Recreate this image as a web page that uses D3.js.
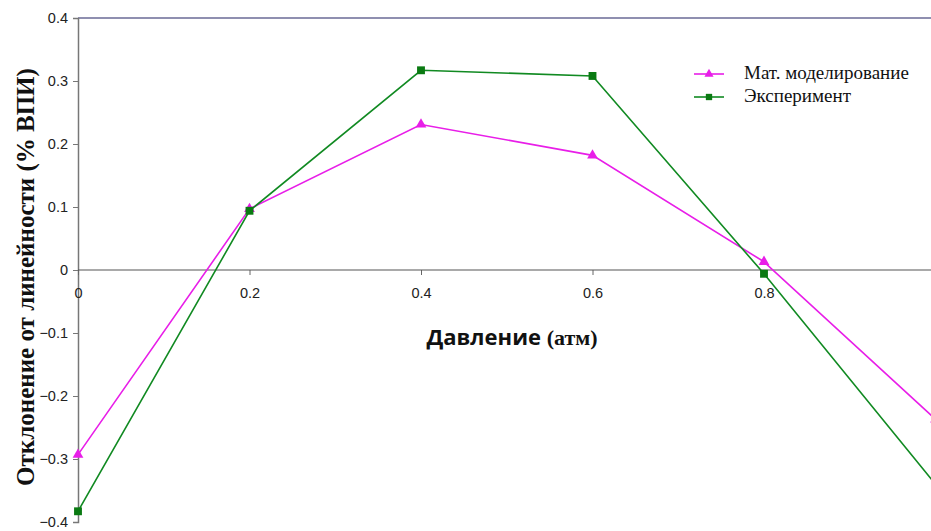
<!DOCTYPE html>
<html>
<head>
<meta charset="utf-8">
<script src="https://cdn.jsdelivr.net/npm/d3@7"></script>
<style>
  body { margin: 0; background: #fff; overflow: hidden; }
</style>
</head>
<body>
<div id="chart"></div>
<script>
// data
var pressure = [0, 0.2, 0.4, 0.6, 0.8, 1.0];
var modelValues = [-0.293, 0.097, 0.231, 0.182, 0.013, -0.237];
var expValues = [-0.383, 0.094, 0.317, 0.308, -0.006, -0.34];
var xTicks = [0, 0.2, 0.4, 0.6, 0.8];
var yTicks = [0.4, 0.3, 0.2, 0.1, 0, -0.1, -0.2, -0.3, -0.4];
var seriesNames = ["Мат. моделирование", "Эксперимент"];

var W = 931, H = 531;
var svg = d3.select("#chart").append("svg")
  .attr("width", W).attr("height", H);

var x = d3.scaleLinear().domain([0, 1]).range([78, 935.5]);
var y = d3.scaleLinear().domain([-0.4, 0.4]).range([522, 18]);

// top border
svg.append("line")
  .attr("x1", x(0)).attr("x2", W)
  .attr("y1", y(0.4)).attr("y2", y(0.4))
  .attr("stroke", "#6a6a96").attr("stroke-width", 1.5);

// y axis
var yAxis = svg.append("g")
  .attr("transform", "translate(" + x(0) + ",0)")
  .call(d3.axisLeft(y).tickValues(yTicks).tickSize(5).tickPadding(5)
    .tickFormat(function (d) { return d === 0 ? "0" : d3.format(".1f")(d); }));
yAxis.select(".domain").attr("stroke", "#777").attr("stroke-width", 1.5);
yAxis.selectAll(".tick line").attr("stroke", "#777");
yAxis.selectAll("text")
  .attr("font-family", "Liberation Sans, Arial, sans-serif")
  .attr("font-size", 14.5).attr("fill", "#222");

// x axis on the zero line
var xAxis = svg.append("g")
  .attr("transform", "translate(0," + y(0) + ")")
  .call(d3.axisBottom(x).tickValues(xTicks).tickSize(5).tickPadding(13)
    .tickFormat(function (d) { return d === 0 ? "0" : d3.format(".1f")(d); }));
xAxis.select(".domain").remove();
xAxis.selectAll(".tick line").attr("stroke", "#666");
xAxis.selectAll("text")
  .attr("font-family", "Liberation Sans, Arial, sans-serif")
  .attr("font-size", 14.5).attr("fill", "#222");
svg.append("line")
  .attr("x1", x(0)).attr("x2", W)
  .attr("y1", y(0)).attr("y2", y(0))
  .attr("stroke", "#555").attr("stroke-width", 1.2);

// axis titles
var xt = svg.append("text")
  .attr("x", 512).attr("y", 345)
  .attr("text-anchor", "middle")
  .attr("font-weight", "bold").attr("fill", "#111");
xt.append("tspan").attr("font-family", "Open Sans, sans-serif")
  .attr("font-size", 22).text("Давление ");
xt.append("tspan").attr("font-family", "Liberation Serif, Times New Roman, serif")
  .attr("font-size", 22).text("(атм)");

svg.append("text")
  .attr("transform", "translate(34," + 277 + ") rotate(-90)")
  .attr("text-anchor", "middle")
  .attr("font-family", "Liberation Serif, Times New Roman, serif")
  .attr("font-weight", "bold").attr("font-size", 25).attr("fill", "#111")
  .text("Отклонение от линейности (% ВПИ)");

// series
var series = [
  { name: seriesNames[0], values: modelValues, color: "#e81ee8", marker: d3.symbolTriangle },
  { name: seriesNames[1], values: expValues, color: "#118a22", marker: d3.symbolSquare }
];

var line = d3.line()
  .x(function (d, i) { return x(pressure[i]); })
  .y(function (d) { return y(d); });

series.forEach(function (s) {
  svg.append("path")
    .datum(s.values)
    .attr("fill", "none")
    .attr("stroke", s.color)
    .attr("stroke-width", 1.6)
    .attr("d", line);
  svg.append("g").selectAll("path")
    .data(s.values)
    .enter()
    .append("path")
    .attr("transform", function (d, i) {
      return "translate(" + x(pressure[i]) + "," + y(d) + ")";
    })
    .attr("d", d3.symbol().type(s.marker).size(s.marker === d3.symbolSquare ? 62 : 50))
    .attr("fill", s.color === "#118a22" ? "#0a7a12" : s.color);
});

// legend
var legend = svg.append("g").attr("transform", "translate(694,74)");
series.forEach(function (s, i) {
  var g = legend.append("g").attr("transform", "translate(0," + i * 23 + ")");
  g.append("line").attr("x1", 0).attr("x2", 30).attr("y1", 0).attr("y2", 0)
    .attr("stroke", s.color).attr("stroke-width", 1.6);
  g.append("path").attr("transform", "translate(15,0)")
    .attr("d", d3.symbol().type(s.marker).size(s.marker === d3.symbolSquare ? 40 : 36))
    .attr("fill", s.color === "#118a22" ? "#0a7a12" : s.color);
  g.append("text").attr("x", 50).attr("y", 5)
    .attr("font-family", "Liberation Serif, Times New Roman, serif")
    .attr("font-size", 19).attr("fill", "#111")
    .text(s.name);
});
</script>
</body>
</html>
